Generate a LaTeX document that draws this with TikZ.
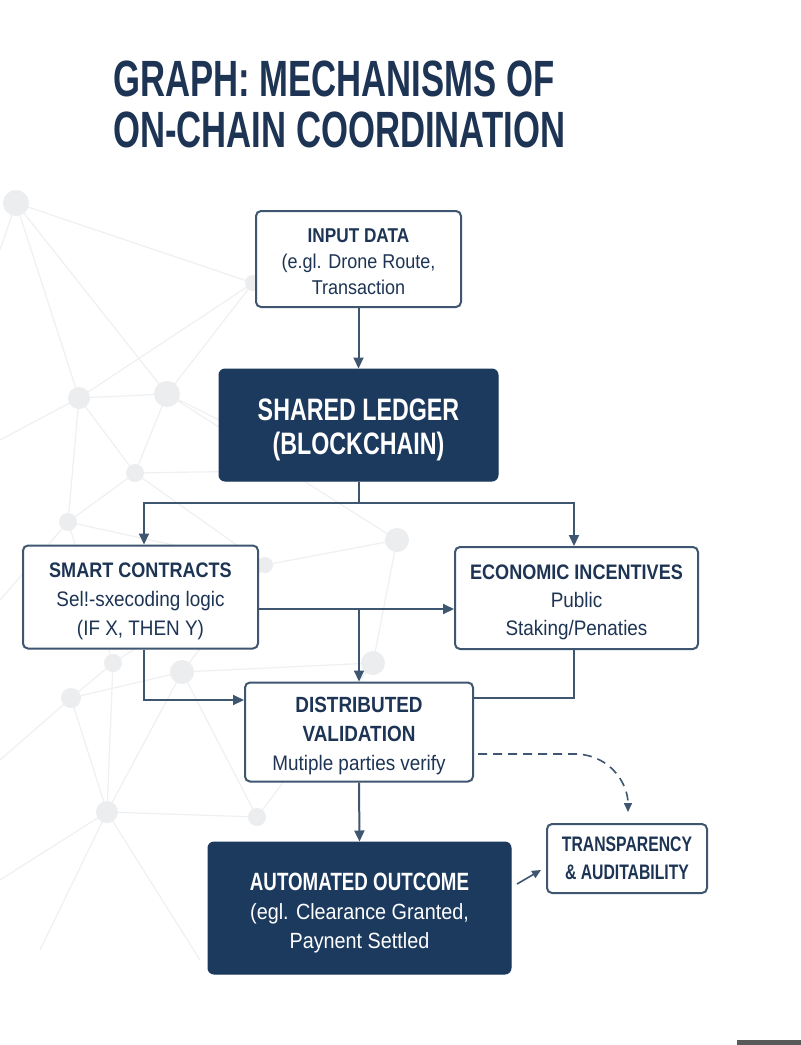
\documentclass[tikz,border=0pt]{standalone}
\usepackage{fontspec}
\setmainfont{Liberation Sans}
\newfontfamily\titlef{Liberation Sans}[FakeStretch=0.68]
\newfontfamily\condw{Liberation Sans}[FakeStretch=0.86]
\newfontfamily\condm{Liberation Sans}[FakeStretch=0.75]
\newfontfamily\regf{Liberation Sans}[FakeStretch=0.9]
\usetikzlibrary{arrows.meta}
\definecolor{navy}{HTML}{1C3A5E}
\definecolor{ink}{HTML}{1D3454}
\definecolor{edge}{HTML}{3F5671}
\definecolor{net}{HTML}{EEF0F2}
\definecolor{netdot}{HTML}{EBEDEF}
\newcommand{\hdtxt}[1]{{\condw\bfseries #1}}
\newcommand{\hdnarrow}[1]{{\condm\bfseries #1}}
\newcommand{\sbtxt}[1]{{\regf #1}}
\tikzset{
  lightbox/.style={draw=edge, line width=2pt, fill=white, rounded corners=5pt, inner sep=0pt},
  darkbox/.style={draw=navy, line width=1pt, fill=navy, rounded corners=6pt, inner sep=0pt},
  lbl/.style={inner sep=0pt, align=center, label distance=0pt},
  link/.style={draw=edge, line width=2pt},
  arr/.style={link, -{Triangle[length=11pt,width=10pt]}},
  netline/.style={draw=net, line width=1.2pt}
}
\begin{document}
\begin{tikzpicture}[x=1pt,y=-1pt]
\useasboundingbox (0,0) rectangle (801,1045);
\fill[white] (0,0) rectangle (801,1045);
% background network
\coordinate (n1) at (16,203);
\coordinate (n2) at (79,398);
\coordinate (n3) at (167,394);
\coordinate (n4) at (135,473);
\coordinate (n5) at (68,522);
\coordinate (n6) at (253,283);
\coordinate (n7) at (113,663);
\coordinate (n8) at (182,672);
\coordinate (n9) at (71,698);
\coordinate (n10) at (107,812);
\coordinate (n11) at (257,817);
\coordinate (n12) at (265,565);
\coordinate (n13) at (397,540);
\coordinate (n14) at (373,663);
\coordinate (e1) at (0,250);
\coordinate (e2) at (0,440);
\coordinate (e3) at (0,600);
\coordinate (e4) at (0,760);
\coordinate (e5) at (0,880);
\coordinate (e6) at (300,240);
\coordinate (e7) at (320,470);
\coordinate (e8) at (40,950);
\coordinate (e9) at (200,960);
\path[netline] (n1)--(n2) (n1)--(n3) (n1)--(n6) (n1)--(e1) (n2)--(n3) (n2)--(n4) (n2)--(n5) (n2)--(e2)
  (n3)--(n4) (n3)--(n6) (n2)--(n6) (n4)--(n5) (n4)--(e7) (n5)--(e3) (n5)--(n12) (n4)--(n12)
  (n3)--(e7) (n12)--(n7) (n12)--(n8) (n5)--(n7) (n7)--(n9) (n8)--(n9) (n7)--(n10) (n9)--(n10)
  (n8)--(n10) (n10)--(n11) (n8)--(n11) (n9)--(e4) (n10)--(e5) (n10)--(e8) (n10)--(e9)
  (n12)--(n13) (n13)--(n14) (n8)--(n14) (n14)--(n11) (n6)--(e6) (n3)--(n13);
\foreach \p/\r in {n1/13,n2/11,n3/13,n4/9,n5/9,n6/8,n7/9,n8/12,n9/10,n10/11,n11/9,n12/8,n13/12,n14/12}
  \fill[netdot] (\p) circle[radius=\r];
% title
\node[anchor=base west, inner sep=0pt, text=ink, font=\fontsize{51}{60}\selectfont\titlef\bfseries] (t1) at (113,96) {GRAPH: MECHANISMS OF};
\node[anchor=base west, inner sep=0pt, text=ink, font=\fontsize{51}{60}\selectfont\titlef\bfseries] (t2) at (113,147) {ON-CHAIN COORDINATION};
% boxes
\node[lightbox, minimum width=205pt, minimum height=96pt,
  label={[lbl, name=inpT, text=ink, yshift=-3pt, font=\fontsize{20}{26}\selectfont]center:{\hdtxt{INPUT DATA}\\\sbtxt{(e.gl. Drone Route,}\\\sbtxt{Transaction}}}] (inp) at (358.5,259) {};
\node[darkbox, minimum width=279pt, minimum height=112pt,
  label={[lbl, name=ledT, text=white, yshift=-4.5pt, font=\fontsize{31}{34}\selectfont]center:{\hdnarrow{SHARED LEDGER}\\\hdnarrow{(BLOCKCHAIN)}}}] (led) at (358.5,425) {};
\node[lightbox, minimum width=235pt, minimum height=103pt,
  label={[lbl, name=scT, text=ink, yshift=-4pt, font=\fontsize{21}{29}\selectfont]center:{\hdtxt{SMART CONTRACTS}\\\sbtxt{Sel!-sxecoding logic}\\\sbtxt{(IF X, THEN Y)}}}] (sc) at (140.5,597) {};
\node[lightbox, minimum width=243pt, minimum height=102pt,
  label={[lbl, name=ecoT, text=ink, yshift=-4pt, font=\fontsize{21}{28}\selectfont]center:{\hdtxt{ECONOMIC INCENTIVES}\\\sbtxt{Public}\\\sbtxt{Staking/Penaties}}}] (eco) at (576.5,598) {};
\node[lightbox, minimum width=228pt, minimum height=99pt,
  label={[lbl, name=dvT, text=ink, yshift=-4pt, font=\fontsize{21}{29}\selectfont]center:{\hdtxt{\fontsize{22}{29}\selectfont DISTRIBUTED}\\\hdtxt{\fontsize{22}{29}\selectfont VALIDATION}\\\sbtxt{Mutiple parties verify}}}] (dv) at (359,732) {};
\node[darkbox, minimum width=303pt, minimum height=132pt,
  label={[lbl, name=aoT, text=white, yshift=-5pt, font=\fontsize{22}{29}\selectfont]center:{\hdnarrow{\fontsize{25}{29}\selectfont AUTOMATED OUTCOME}\\\sbtxt{(egl. Clearance Granted,}\\\sbtxt{Paynent Settled}}}] (ao) at (359.5,908) {};
\node[lightbox, minimum width=160pt, minimum height=69pt,
  label={[lbl, name=trT, text=ink, font=\fontsize{21}{28}\selectfont]center:{\hdnarrow{TRANSPARENCY}\\\hdnarrow{\& AUDITABILITY}}}] (tr) at (627,858.5) {};
% helper rows
\coordinate (r503) at (0,503);
\coordinate (r609) at (0,609);
\coordinate (r700) at (0,700);
\coordinate (r698) at (0,698);
\coordinate (ds) at (478,754);
\coordinate (dm) at (577,754);
\coordinate (de) at (628,812);
\coordinate (as) at (517,884);
\coordinate (ae) at (541,870);
% connectors
\draw[arr] (inp.south) -- (led.north);
\draw[link] (led.south) -- (led.south |- r503);
\draw[arr] (led.south |- r503) -| ([xshift=3.5pt]sc.north);
\draw[arr] (led.south |- r503) -| ([xshift=-2.5pt]eco.north);
\draw[arr] (sc.east |- r609) -- (eco.west |- r609);
\draw[arr] (dv.north |- r609) -- (dv.north);
\draw[arr] ([xshift=3.5pt]sc.south) |- (dv.west |- r700);
\draw[link] ([xshift=-2.5pt]eco.south) |- (dv.east |- r698);
\draw[arr] (dv.south) -- (ao.north);
\draw[link, dashed, dash pattern=on 9pt off 6pt, line width=1.6pt, -{Triangle[length=9pt,width=8pt]}]
  (ds) -- (dm) .. controls (612,756) and (628,785) .. (de);
\draw[link, line width=1.6pt, -{Triangle[length=9pt,width=8pt]}] (as) -- (ae);
% bottom bar
\fill[gray!70!black] (737,1040) rectangle (801,1045);
\end{tikzpicture}
\end{document}
